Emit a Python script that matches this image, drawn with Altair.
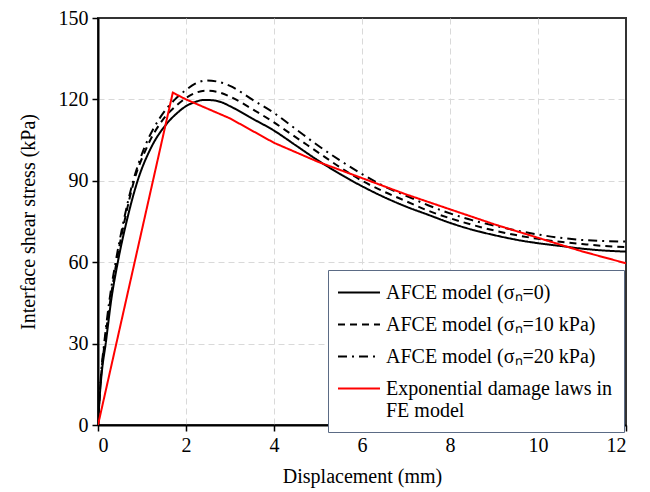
import altair as alt
import pandas as pd

# ---- data ----
series_names = [
    "AFCE model (σₙ=0)",
    "AFCE model (σₙ=10 kPa)",
    "AFCE model (σₙ=20 kPa)",
    "Exponential damage laws in|FE model",
]

x_s0 = [0, 0.045, 0.09, 0.175, 0.3, 0.45, 0.65, 0.9, 1.2, 1.56, 1.8, 2.0, 2.2, 2.4, 2.6, 2.8, 3.0,
        3.5, 4, 4.5, 5, 5.5, 6, 6.5, 7, 7.5, 8, 8.5, 9, 9.5, 10, 10.5, 11, 11.5, 12]
y_s0 = [0, 11.8, 20, 30, 46, 60, 75, 90, 102, 111, 115, 117.5, 119, 119.8, 119.7, 119, 117.5,
        113, 108.5, 103, 97.5, 92.5, 88, 84, 80.5, 77.5, 74.5, 72, 70, 68.3, 67, 66, 65, 64.3, 63.9]

x_s10 = [0, 0.04, 0.08, 0.15, 0.28, 0.42, 0.6, 0.82, 1.1, 1.45, 1.8, 2.0, 2.2, 2.45, 2.7, 3.0,
         3.5, 4, 4.5, 5, 5.5, 6, 6.5, 7, 7.5, 8, 8.5, 9, 9.5, 10, 10.5, 11, 11.5, 12]
y_s10 = [0, 11.8, 20, 30, 46, 60, 75, 90, 102, 112, 118, 120.5, 122.3, 123.2, 122.8, 121,
         116.5, 111.5, 106, 100.5, 95, 90, 86, 82.5, 79, 76.2, 73.8, 71.7, 70, 68.6, 67.5, 66.7, 66, 65.6]

x_s20 = [0, 0.04, 0.075, 0.14, 0.26, 0.4, 0.58, 0.8, 1.05, 1.4, 1.75, 2.0, 2.2, 2.47, 2.7, 3.0,
         3.5, 4, 4.5, 5, 5.5, 6, 6.5, 7, 7.5, 8, 8.5, 9, 9.5, 10, 10.5, 11, 11.5, 12]
y_s20 = [0, 11.8, 20, 30, 46, 60, 75, 90, 102, 113, 120, 123.5, 125.7, 127, 126.6, 125,
         120, 115, 109, 103, 97.5, 92.5, 88, 84.5, 81, 78, 75.5, 73.5, 71.7, 70.2, 69, 68.2, 67.8, 67.6]

x_fe = [0, 1.7, 2, 3, 4, 5, 6, 7, 8, 9, 10, 11, 12]
y_fe = [0, 122.5, 120, 113, 104, 97, 91, 85, 79.5, 74, 69, 64, 59.6]

x_ticks = [0, 2, 4, 6, 8, 10, 12]
y_ticks = [0, 30, 60, 90, 120, 150]

rows = []
for name, xs, ys in zip(series_names, [x_s0, x_s10, x_s20, x_fe], [y_s0, y_s10, y_s20, y_fe]):
    for i, (xv, yv) in enumerate(zip(xs, ys)):
        rows.append({"series": name, "x": xv, "y": yv, "i": i})
df = pd.DataFrame(rows)

FONT = "Liberation Serif"

legend = alt.Legend(
    title=None,
    orient="none",
    legendX=230,
    legendY=252,
    symbolType="M-2,0H2",
    symbolSize=441,
    symbolStrokeWidth=2,
    symbolOffset=8.5,
    labelFont=FONT,
    labelFontSize=20,
    labelColor="black",
    labelLimit=500,
    labelOffset=15.5,
    labelExpr="split(datum.label, '|')",
    padding=11,
    rowPadding=10,
    fillColor="white",
    strokeColor="#5b6b85",
    zindex=2,
)

enc = dict(
    x=alt.X("x:Q", scale=alt.Scale(domain=[0, 12], nice=False),
            axis=alt.Axis(title="Displacement (mm)", values=x_ticks, format="d",
                          gridOpacity={"condition": {"test": "datum.value == 0 || datum.value == 12", "value": 0},
                                       "value": 1})),
    y=alt.Y("y:Q", scale=alt.Scale(domain=[0, 150], nice=False),
            axis=alt.Axis(title="Interface shear stress (kPa)", values=y_ticks, format="d",
                          gridOpacity={"condition": {"test": "datum.value == 0 || datum.value == 150", "value": 0},
                                       "value": 1})),
    color=alt.Color("series:N", scale=alt.Scale(domain=series_names,
                                                range=["black", "black", "black", "#ff0000"]),
                    legend=legend, sort=series_names),
    strokeDash=alt.StrokeDash("series:N", scale=alt.Scale(domain=series_names,
                                                          range=[[1, 0], [7, 5], [9, 5, 2, 5], [1, 0]]),
                              legend=legend, sort=series_names),
    order="i:Q",
    detail="series:N",
)

afce = alt.Chart(df).transform_filter(
    alt.FieldOneOfPredicate(field="series", oneOf=series_names[:3])
).mark_line(strokeWidth=2, clip=True, interpolate="monotone").encode(**enc)

fe = alt.Chart(df).transform_filter(
    alt.FieldEqualPredicate(field="series", equal=series_names[3])
).mark_line(strokeWidth=2, clip=True, interpolate="linear").encode(**enc)

chart = alt.layer(afce, fe).properties(
    width=528,
    height=407,
    autosize=alt.AutoSizeParams(type="none"),
    padding={"left": 98, "top": 18, "right": 24, "bottom": 67},
    background="white",
).configure_view(
    stroke="#333333", strokeWidth=2
).configure_axis(
    labelFont=FONT, labelFontSize=20, labelColor="black",
    titleFont=FONT, titleFontSize=20, titleColor="black", titleFontWeight="normal",
    domainColor="black", domainWidth=2,
    tickColor="black", tickSize=6, tickWidth=1.5,
    grid=True, gridColor="#d9d9d9", gridDash=[6, 4], gridWidth=1,
    labelPadding=4,
).configure_axisX(
    titlePadding=11
).configure_axisY(
    titlePadding=20
)

chart.save("out.html", embed_options={"renderer": "svg", "actions": False})
